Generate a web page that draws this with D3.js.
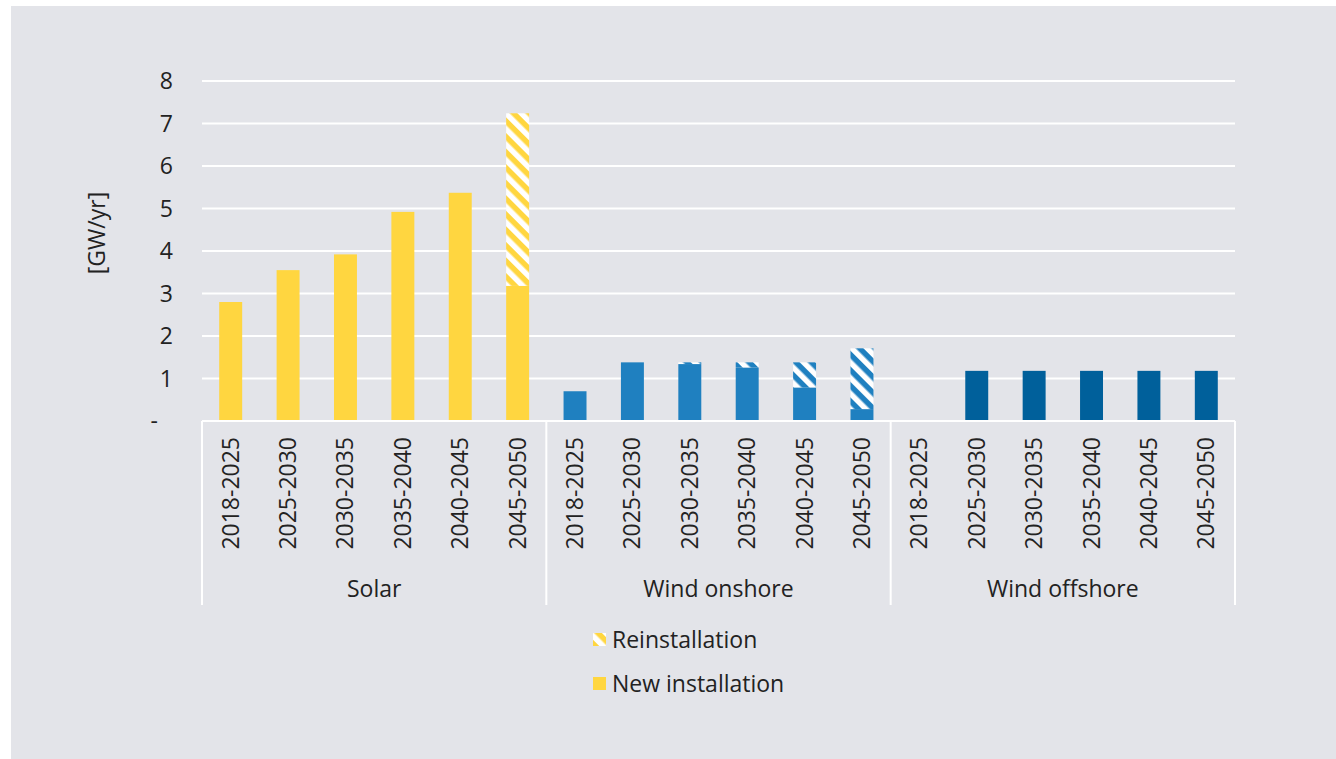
<!DOCTYPE html>
<html>
<head>
<meta charset="utf-8">
<script src="https://cdn.jsdelivr.net/npm/d3@7"></script>
<style>
  html, body { margin: 0; padding: 0; background: #ffffff; }
  svg { display: block; }
  text { font-family: "Open Sans", sans-serif; fill: #222222; }
</style>
</head>
<body>
<svg id="chart" width="1336" height="759"></svg>
<script>
// ---- Data ----
const groups = ["Solar", "Wind onshore", "Wind offshore"];
const periods = ["2018-2025", "2025-2030", "2030-2035", "2035-2040", "2040-2045", "2045-2050"];
const newSolar = [2.80, 3.55, 3.92, 4.92, 5.37, 3.18];
const newOnshore = [0.70, 1.38, 1.34, 1.26, 0.79, 0.28];
const newOffshore = [0, 1.18, 1.18, 1.18, 1.18, 1.18];
const reSolar = [0, 0, 0, 0, 0, 4.06];
const reOnshore = [0, 0, 0.04, 0.12, 0.59, 1.43];
const reOffshore = [0, 0, 0, 0, 0, 0];
const yTicks = [0, 1, 2, 3, 4, 5, 6, 7, 8];
const seriesNames = ["Reinstallation", "New installation"];
const groupColors = ["#FFD640", "#1F80C0", "#00609B"];

const newVals = [newSolar, newOnshore, newOffshore];
const reVals = [reSolar, reOnshore, reOffshore];
const FS = 23;

const svg = d3.select("#chart");

// background panel
svg.append("rect").attr("x", 11).attr("y", 6).attr("width", 1325).attr("height", 753).attr("fill", "#E3E4E9");

// patterns
const defs = svg.append("defs");
groupColors.forEach((c, i) => {
  const p = defs.append("pattern")
    .attr("id", "hatch" + i)
    .attr("patternUnits", "userSpaceOnUse")
    .attr("width", 11).attr("height", 11)
    .attr("patternTransform", "rotate(45)");
  p.append("rect").attr("width", 11).attr("height", 11).attr("fill", "#ffffff");
  p.append("rect").attr("width", 11).attr("height", 5.5).attr("fill", c);
});

const x0 = d3.scaleBand().domain(groups).range([202, 1235]).padding(0);
const x1 = d3.scaleBand().domain(periods).range([0, x0.bandwidth()]).paddingInner(0.6).paddingOuter(0.3);
const y = d3.scaleLinear().domain([0, 8]).range([421, 81]);

// y axis labels
const yAxis = d3.axisLeft(y).tickValues(yTicks).tickSize(0).tickPadding(0)
  .tickFormat(d => d === 0 ? "-" : d3.format("d")(d));
const gy = svg.append("g").attr("transform", "translate(173,0)").call(yAxis);
gy.select(".domain").remove();
gy.selectAll("text").attr("font-size", FS).attr("font-family", "Open Sans").attr("fill", "#222222")
  .attr("dy", "0.34em")
  .attr("x", d => d === 0 ? -15 : 0);

// gridlines
svg.append("g").selectAll("line").data(yTicks.filter(d => d > 0)).join("line")
  .attr("x1", 202).attr("x2", 1235)
  .attr("y1", d => y(d)).attr("y2", d => y(d))
  .attr("stroke", "#ffffff").attr("stroke-width", 2);

// bars
const gBars = svg.append("g");
groups.forEach((g, gi) => {
  const gg = gBars.append("g").attr("transform", `translate(${x0(g)},0)`);
  const rows = periods.map((p, i) => ({ p, n: newVals[gi][i], r: reVals[gi][i] }));
  gg.selectAll("rect.new").data(rows).join("rect").attr("class", "new")
    .attr("x", d => x1(d.p)).attr("width", x1.bandwidth())
    .attr("y", d => y(d.n)).attr("height", d => y(0) - y(d.n))
    .attr("fill", groupColors[gi]);
  gg.selectAll("rect.re").data(rows.filter(d => d.r > 0)).join("rect").attr("class", "re")
    .attr("x", d => x1(d.p)).attr("width", x1.bandwidth())
    .attr("y", d => y(d.n + d.r)).attr("height", d => y(d.n) - y(d.n + d.r))
    .attr("fill", `url(#hatch${gi})`);
});

// x axis line and separators
svg.append("line").attr("x1", 202).attr("x2", 1235).attr("y1", y(0)).attr("y2", y(0))
  .attr("stroke", "#ffffff").attr("stroke-width", 2);
const seps = groups.map(g => x0(g)).concat([x0(groups[groups.length - 1]) + x0.bandwidth()]);
svg.append("g").selectAll("line").data(seps).join("line")
  .attr("x1", d => d).attr("x2", d => d).attr("y1", y(0)).attr("y2", 605)
  .attr("stroke", "#ffffff").attr("stroke-width", 2);

// category labels
groups.forEach((g, gi) => {
  svg.append("g").selectAll("text").data(periods).join("text")
    .attr("transform", d => `translate(${x0(g) + x1(d) + x1.bandwidth() / 2 + 8},437) rotate(-90)`)
    .attr("text-anchor", "end")
    .attr("font-size", FS)
    .text(d => d);
  svg.append("text")
    .attr("x", x0(g) + x0.bandwidth() / 2).attr("y", 597)
    .attr("text-anchor", "middle").attr("font-size", FS)
    .text(g);
});

// y label
svg.append("text").attr("transform", "translate(105,233) rotate(-90)")
  .attr("text-anchor", "middle").attr("font-size", FS).text("[GW/yr]");

// legend
const legY = [640, 684];
seriesNames.forEach((s, i) => {
  svg.append("rect").attr("x", 593).attr("y", legY[i] - 7).attr("width", 13).attr("height", 13)
    .attr("fill", i === 0 ? "url(#hatch0)" : groupColors[0]);
  svg.append("text").attr("x", 612).attr("y", legY[i]).attr("dy", "0.35em")
    .attr("font-size", FS).text(s);
});
</script>
</body>
</html>
